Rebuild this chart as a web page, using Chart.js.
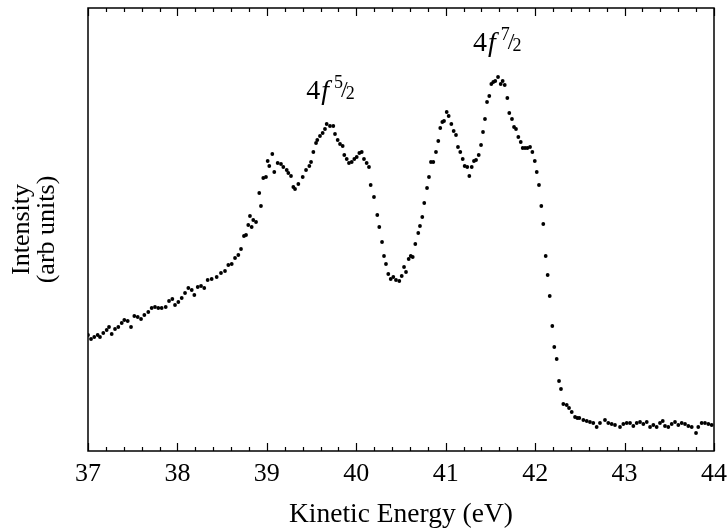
<!DOCTYPE html>
<html>
<head>
<meta charset="utf-8">
<script src="https://cdn.jsdelivr.net/npm/chart.js@4"></script>
<style>
  body { margin: 0; background: #fff; }
  #wrap { width: 728px; height: 531px; position: relative; }
</style>
</head>
<body>
<div id="wrap"><canvas id="grafica"></canvas></div>
<script>
// energia cinetica (eV) e intensita (unita arbitrarie)
const energia = [
  37.00, 37.034, 37.070, 37.108, 37.134, 37.171, 37.209, 37.235, 37.265, 37.302,
  37.339, 37.377, 37.406, 37.444, 37.481, 37.518, 37.556, 37.593, 37.630, 37.674,
  37.712, 37.749, 37.786, 37.824, 37.869, 37.906, 37.943, 37.973, 38.010, 38.048,
  38.085, 38.122, 38.160, 38.189, 38.227, 38.264, 38.300, 38.338, 38.383, 38.439,
  38.487, 38.532, 38.569, 38.607, 38.644, 38.681, 38.711,
  38.744, 38.767, 38.792, 38.811, 38.830, 38.848, 38.879, 38.915, 38.934, 38.960,
  38.990, 39.009, 39.027, 39.061, 39.083, 39.121, 39.158, 39.184, 39.222, 39.240,
  39.270, 39.296, 39.315, 39.352, 39.401, 39.438, 39.475, 39.494, 39.520, 39.550,
  39.564, 39.594, 39.624, 39.650, 39.669, 39.706, 39.743, 39.762, 39.792, 39.818,
  39.848, 39.866, 39.893, 39.918, 39.949, 39.978, 40.005, 40.034, 40.061, 40.086,
  40.116, 40.142, 40.161, 40.198, 40.235, 40.257,
  40.288, 40.310, 40.332, 40.358, 40.385, 40.414, 40.444, 40.481, 40.508, 40.534,
  40.556, 40.586, 40.609, 40.631, 40.660, 40.693, 40.712, 40.738, 40.760, 40.791,
  40.813, 40.835, 40.861, 40.891, 40.917, 40.939, 40.962, 40.981, 41.011, 41.033,
  41.063, 41.089, 41.115, 41.137, 41.163, 41.190, 41.212, 41.241, 41.264, 41.291,
  41.316, 41.339, 41.369, 41.395, 41.417, 41.439, 41.462, 41.487, 41.510, 41.532,
  41.554, 41.585, 41.615, 41.637, 41.660, 41.689, 41.711, 41.741, 41.764, 41.786,
  41.812, 41.839, 41.861, 41.887, 41.913, 41.943, 41.969, 41.996, 42.018, 42.043,
  42.069, 42.091, 42.118, 42.140, 42.163, 42.192, 42.214, 42.241, 42.267, 42.289,
  42.315, 42.353, 42.379, 42.409, 42.446, 42.472,
  42.494, 42.539, 42.577, 42.613, 42.650, 42.688, 42.725, 42.781, 42.818, 42.856,
  42.893, 42.949, 42.986, 43.024, 43.061, 43.098, 43.136, 43.173, 43.210, 43.248,
  43.285, 43.322, 43.359, 43.396, 43.427, 43.452, 43.489, 43.527, 43.564, 43.601,
  43.639, 43.676, 43.713, 43.751, 43.799, 43.824, 43.862, 43.899, 43.937, 43.974
];
const intensita = [
  116, 112, 114, 116, 114, 118, 121, 124, 117, 122,
  124, 128, 131, 130, 124, 135, 134, 132, 136, 139,
  143, 144, 143, 143, 144, 150, 152, 146, 149, 153,
  158, 163, 161, 156, 164, 165, 163, 171, 172, 174,
  178, 180, 186, 187, 193, 196, 202,
  215, 216, 226, 235, 224, 231, 229, 258, 245, 273,
  274, 290, 285, 297, 279, 288, 287, 284, 281, 278,
  275, 264, 262, 267, 274, 281, 285, 289, 299, 308,
  311, 315, 318, 322, 327, 325, 325, 317, 311, 307,
  305, 296, 292, 288, 289, 292, 294, 298, 299, 292,
  288, 284, 266, 254, 236, 224,
  209, 195, 187, 177, 172, 174, 171, 170, 175, 184,
  179, 192, 195, 194, 207, 218, 225, 234, 248, 263,
  274, 289, 289, 299, 310, 323, 329, 330, 339, 335,
  327, 320, 316, 304, 299, 292, 285, 284, 275, 284,
  290, 291, 296, 306, 319, 332, 349, 355, 367, 369,
  370, 374, 367, 370, 366, 353, 338, 332, 324, 322,
  314, 309, 303, 303, 303, 304, 299, 290, 279, 266,
  245, 227, 195, 176, 155, 125, 104, 92, 70, 62,
  47, 46, 43, 39, 34, 33,
  33, 31, 30, 29, 28, 24, 28, 31, 28, 27,
  26, 24, 27, 28, 28, 25, 28, 29, 27, 29,
  24, 26, 24, 28, 30, 25, 24, 27, 29, 26,
  28, 27, 25, 24, 18, 24, 28, 28, 27, 26
];
const xTicks = [37, 38, 39, 40, 41, 42, 43, 44];
const picchi = [
  { e: 39.44, i: 352, sup: "5", sub: "2" },
  { e: 41.305, i: 400, sup: "7", sub: "2" }
];

const serif = "'Liberation Serif', 'DejaVu Serif', serif";

// bordo, tacche interne ed etichette dei picchi
const cornice = {
  id: "cornice",
  afterDraw(chart) {
    const { ctx, chartArea: a, scales } = chart;
    const x = scales.x, y = scales.y;
    ctx.save();
    ctx.strokeStyle = "#000";
    ctx.lineWidth = 1.5;
    ctx.strokeRect(a.left, a.top, a.right - a.left, a.bottom - a.top);
    ctx.lineWidth = 1.2;
    for (let k = 0; k <= 35; k++) {
      const v = 37 + k * 0.2;
      const px = Math.round(x.getPixelForValue(v)) + 0.5;
      const len = k % 5 === 0 ? 8 : 4;
      ctx.beginPath();
      ctx.moveTo(px, a.bottom); ctx.lineTo(px, a.bottom - len);
      ctx.moveTo(px, a.top); ctx.lineTo(px, a.top + len);
      ctx.stroke();
    }
    // titolo asse y su due righe
    ctx.fillStyle = "#000";
    ctx.font = "26px " + serif;
    ctx.textAlign = "center";
    ctx.textBaseline = "middle";
    const cy = (a.top + a.bottom) / 2;
    ctx.translate(22, cy);
    ctx.rotate(-Math.PI / 2);
    ctx.fillText("Intensity", 0, 0);
    ctx.fillText("(arb units)", 0, 25);
    ctx.setTransform(1, 0, 0, 1, 0, 0);
    // etichette 4f j
    ctx.textAlign = "left";
    ctx.textBaseline = "alphabetic";
    picchi.forEach(p => {
      let px = x.getPixelForValue(p.e);
      const py = y.getPixelForValue(p.i);
      ctx.font = "28px " + serif;
      ctx.fillText("4", px, py);
      px += ctx.measureText("4").width + 1;
      ctx.font = "italic 28px " + serif;
      ctx.fillText("f", px, py);
      px += ctx.measureText("f").width + 5;
      ctx.font = "18px " + serif;
      ctx.fillText(p.sup, px, py - 11);
      px += ctx.measureText(p.sup).width - 2;
      ctx.font = "24px " + serif;
      ctx.fillText("/", px, py - 2);
      px += ctx.measureText("/").width - 2;
      ctx.font = "18px " + serif;
      ctx.fillText(p.sub, px, py);
    });
    ctx.restore();
  }
};

const punti = energia.map((e, i) => ({ x: e, y: intensita[i] }));

new Chart(document.querySelector("#grafica"), {
  type: "scatter",
  data: {
    datasets: [{
      data: punti,
      backgroundColor: "#000",
      borderWidth: 0,
      pointRadius: 1.9,
      pointHoverRadius: 1.9
    }]
  },
  options: {
    responsive: true,
    maintainAspectRatio: false,
    animation: false,
    events: [],
    layout: { padding: { left: 88, right: 14, top: 8, bottom: 0 } },
    plugins: { legend: { display: false }, tooltip: { enabled: false } },
    scales: {
      x: {
        type: "linear",
        min: 37,
        max: 44,
        afterFit(s) { s.height = 80; s.paddingLeft = 0; s.paddingRight = 0; },
        afterBuildTicks(s) { s.ticks = xTicks.map(v => ({ value: v })); },
        border: { display: false },
        grid: { display: false, drawTicks: false },
        ticks: {
          color: "#000",
          padding: 8,
          maxRotation: 0,
          font: { family: serif, size: 26 }
        },
        title: {
          display: true,
          text: "Kinetic Energy (eV)",
          color: "#000",
          font: { family: serif, size: 27.5 },
          padding: { top: 9, bottom: 0 }
        }
      },
      y: {
        display: false,
        min: 0,
        max: 443
      }
    }
  },
  plugins: [cornice]
});
</script>
</body>
</html>
